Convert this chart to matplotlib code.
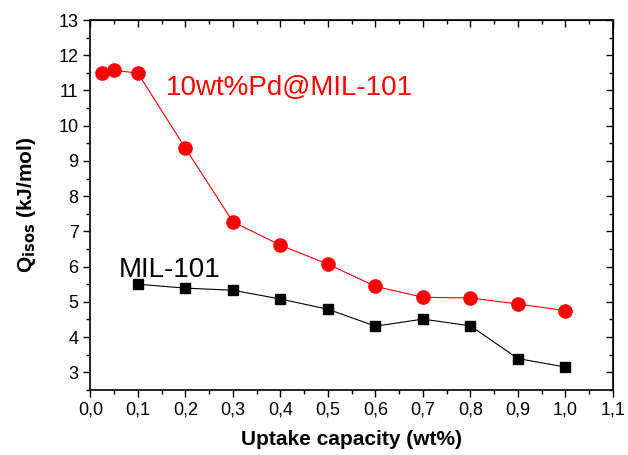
import matplotlib
matplotlib.use("Agg")
import matplotlib.pyplot as plt
from matplotlib.ticker import MultipleLocator, FuncFormatter

plt.rcParams['font.family'] = ['Liberation Sans', 'DejaVu Sans']

pd_x = [0.024, 0.049, 0.1, 0.2, 0.3, 0.4, 0.5, 0.6, 0.7, 0.8, 0.9, 1.0]
pd_y = [11.51, 11.58, 11.49, 9.36, 7.27, 6.61, 6.07, 5.44, 5.13, 5.11, 4.94, 4.75]
mil_x = [0.1, 0.2, 0.3, 0.4, 0.5, 0.6, 0.7, 0.8, 0.9, 1.0]
mil_y = [5.50, 5.39, 5.33, 5.08, 4.79, 4.31, 4.51, 4.32, 3.39, 3.15]

fig = plt.figure(figsize=(6.28, 4.55), dpi=100)
ax = fig.add_axes([0.144, 0.143, 0.832, 0.813])

ax.plot(pd_x, pd_y, '-o', color='red', lw=0.8, ms=9.5, mec='red', mfc='red')
ax.plot(mil_x, mil_y, '-s', color='black', lw=0.8, ms=7, mec='black', mfc='black')

ax.set_xlim(0, 1.1)
ax.set_ylim(2.5, 13)
ax.xaxis.set_major_locator(MultipleLocator(0.1))
ax.xaxis.set_minor_locator(MultipleLocator(0.05))
ax.yaxis.set_major_locator(MultipleLocator(1))
ax.yaxis.set_minor_locator(MultipleLocator(0.5))
ax.xaxis.set_major_formatter(FuncFormatter(lambda v, p: f"{v:.1f}".replace('.', ',')))
ax.yaxis.set_major_formatter(FuncFormatter(lambda v, p: f"{v:.0f}"))

ax.tick_params(axis='both', which='major', labelsize=13, length=5, width=1, direction='out')
ax.tick_params(axis='both', which='minor', length=3, width=1, direction='out')
for s in ax.spines.values():
    s.set_linewidth(1.2)

# top/right inward ticks
axt = ax.secondary_xaxis('top')
axt.xaxis.set_major_locator(MultipleLocator(0.1))
axt.xaxis.set_minor_locator(MultipleLocator(0.05))
axt.tick_params(which='major', direction='in', length=5, width=1, labeltop=False)
axt.tick_params(which='minor', direction='in', length=3, width=1)
axr = ax.secondary_yaxis('right')
axr.yaxis.set_major_locator(MultipleLocator(1))
axr.yaxis.set_minor_locator(MultipleLocator(0.5))
axr.tick_params(which='major', direction='in', length=5, width=1, labelright=False)
axr.tick_params(which='minor', direction='in', length=3, width=1)

ax.set_xlabel('Uptake capacity (wt%)', fontsize=15, fontweight='bold', labelpad=8)
ax.set_ylabel(r'Q$_{\mathbf{isos}}$ (kJ/mol)', fontsize=15, fontweight='bold', labelpad=15)

ax.text(0.158, 10.87, '10wt%Pd@MIL-101', color='red', fontsize=20, va='baseline', ha='left')
ax.text(0.06, 5.71, 'MIL-101', color='black', fontsize=20, va='baseline', ha='left')

fig.savefig('out.png', dpi=100)
